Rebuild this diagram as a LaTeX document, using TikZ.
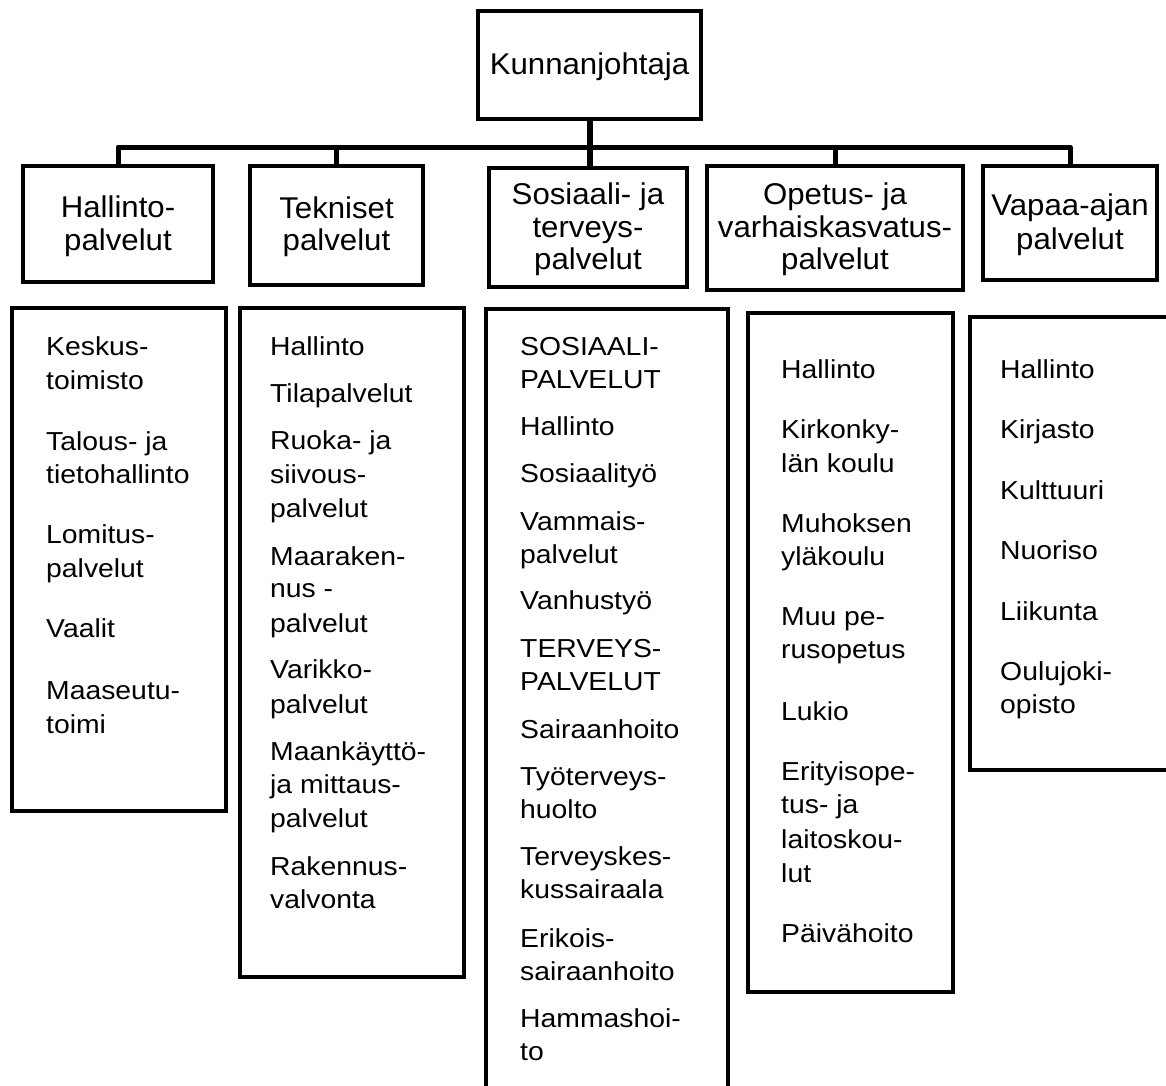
\documentclass[tikz,border=0pt]{standalone}
\usepackage{fontspec}
\setmainfont{Liberation Sans}
\newfontfamily\lstfont{Liberation Sans}[FakeStretch=1.09]
\newfontfamily\hdfont{Liberation Sans}[FakeStretch=1.04]
\begin{document}
\begin{tikzpicture}[x=1pt,y=-1pt,
  box/.style={draw, line width=4pt, rectangle, inner sep=0pt},
  conn/.style={draw, line width=5pt, line join=round},
  hd/.style={font=\hdfont\fontsize{30}{33}\selectfont, anchor=base, inner sep=0pt},
  lst/.style={font=\lstfont\fontsize{26}{34}\selectfont, anchor=base west, inner sep=0pt}]
\useasboundingbox (0,0) rectangle (1166,1085);
\clip (0,0) rectangle (1166,1085);
% top
\node[box, minimum width=223pt, minimum height=108pt] (kun) at (589.5,65) {};
% level 2
\node[box, minimum width=190pt, minimum height=116pt] (hal) at (118,224) {};
\node[box, minimum width=173pt, minimum height=119pt] (tek) at (336.5,225.5) {};
\node[box, minimum width=198pt, minimum height=119pt] (soc) at (588,227.5) {};
\node[box, minimum width=256pt, minimum height=124pt] (ope) at (835,228) {};
\node[box, minimum width=174pt, minimum height=114pt] (vap) at (1070,223) {};
% level 3
\node[box, minimum width=214pt, minimum height=503pt] (b1) at (119,559.5) {};
\node[box, minimum width=224pt, minimum height=669pt] (b2) at (352,642.5) {};
\node[box, minimum width=242pt, minimum height=811pt] (b3) at (607,714.5) {};
\node[box, minimum width=205pt, minimum height=679pt] (b4) at (850.5,652.5) {};
\node[box, minimum width=230pt, minimum height=453pt] (b5) at (1085,543.5) {};
% connectors
\coordinate (jn) at (589.5,147);
\draw[conn] (hal.north) |- (jn) -| (vap.north);
\draw[conn, line width=6pt] (kun.south) -- (kun.south |- soc.north);
\draw[conn] (tek.north) -- (tek.north |- jn);
\draw[conn] (ope.north) -- (ope.north |- jn);
% headings
\node[hd] (tk) at (589.5,74) {Kunnanjohtaja};
\foreach \t/\y [count=\i] in {Hallinto-/217, palvelut/250}
  \node[hd] (th\i) at (118,\y) {\t};
\foreach \t/\y [count=\i] in {Tekniset/218, palvelut/250}
  \node[hd] (tt\i) at (336.5,\y) {\t};
\foreach \t/\y [count=\i] in {Sosiaali- ja/204, terveys-/237, palvelut/269}
  \node[hd] (ts\i) at (588,\y) {\t};
\foreach \t/\y [count=\i] in {Opetus- ja/204, varhaiskasvatus-/237, palvelut/269}
  \node[hd] (to\i) at (835,\y) {\t};
\foreach \t/\y [count=\i] in {Vapaa-ajan/215, palvelut/249}
  \node[hd] (tv\i) at (1070,\y) {\t};
% lists
\foreach \t/\y [count=\i] in {Keskus-/355, toimisto/389, Talous- ja/450, tietohallinto/483,
   Lomitus-/543, palvelut/577, Vaalit/637, Maaseutu-/699, toimi/733}
  \node[lst] (la\i) at (46,\y) {\t};
\foreach \t/\y [count=\i] in {Hallinto/355, Tilapalvelut/402, Ruoka- ja/449, siivous-/483,
   palvelut/517, Maaraken-/565, nus -/597, palvelut/632, Varikko-/678, palvelut/713,
   Maankäyttö-/760, ja mittaus-/793, palvelut/827, Rakennus-/875, valvonta/908}
  \node[lst] (lb\i) at (270,\y) {\t};
\foreach \t/\y [count=\i] in {SOSIAALI-/355, PALVELUT/388, Hallinto/435, Sosiaalityö/482,
   Vammais-/530, palvelut/563, Vanhustyö/609, TERVEYS-/657, PALVELUT/690,
   Sairaanhoito/738, Työterveys-/785, huolto/818, Terveyskes-/865, kussairaala/898,
   Erikois-/947, sairaanhoito/980, Hammashoi-/1027, to/1060}
  \node[lst] (lc\i) at (520,\y) {\t};
\foreach \t/\y [count=\i] in {Hallinto/378, Kirkonky-/438, län koulu/472, Muhoksen/532,
   yläkoulu/565, Muu pe-/625, rusopetus/658, Lukio/720, Erityisope-/780, tus- ja/813,
   laitoskou-/848, lut/882, Päivähoito/942}
  \node[lst] (ld\i) at (781,\y) {\t};
\foreach \t/\y [count=\i] in {Hallinto/378, Kirjasto/438, Kulttuuri/499, Nuoriso/559,
   Liikunta/620, Oulujoki-/680, opisto/713}
  \node[lst] (le\i) at (1000,\y) {\t};
\end{tikzpicture}
\end{document}
